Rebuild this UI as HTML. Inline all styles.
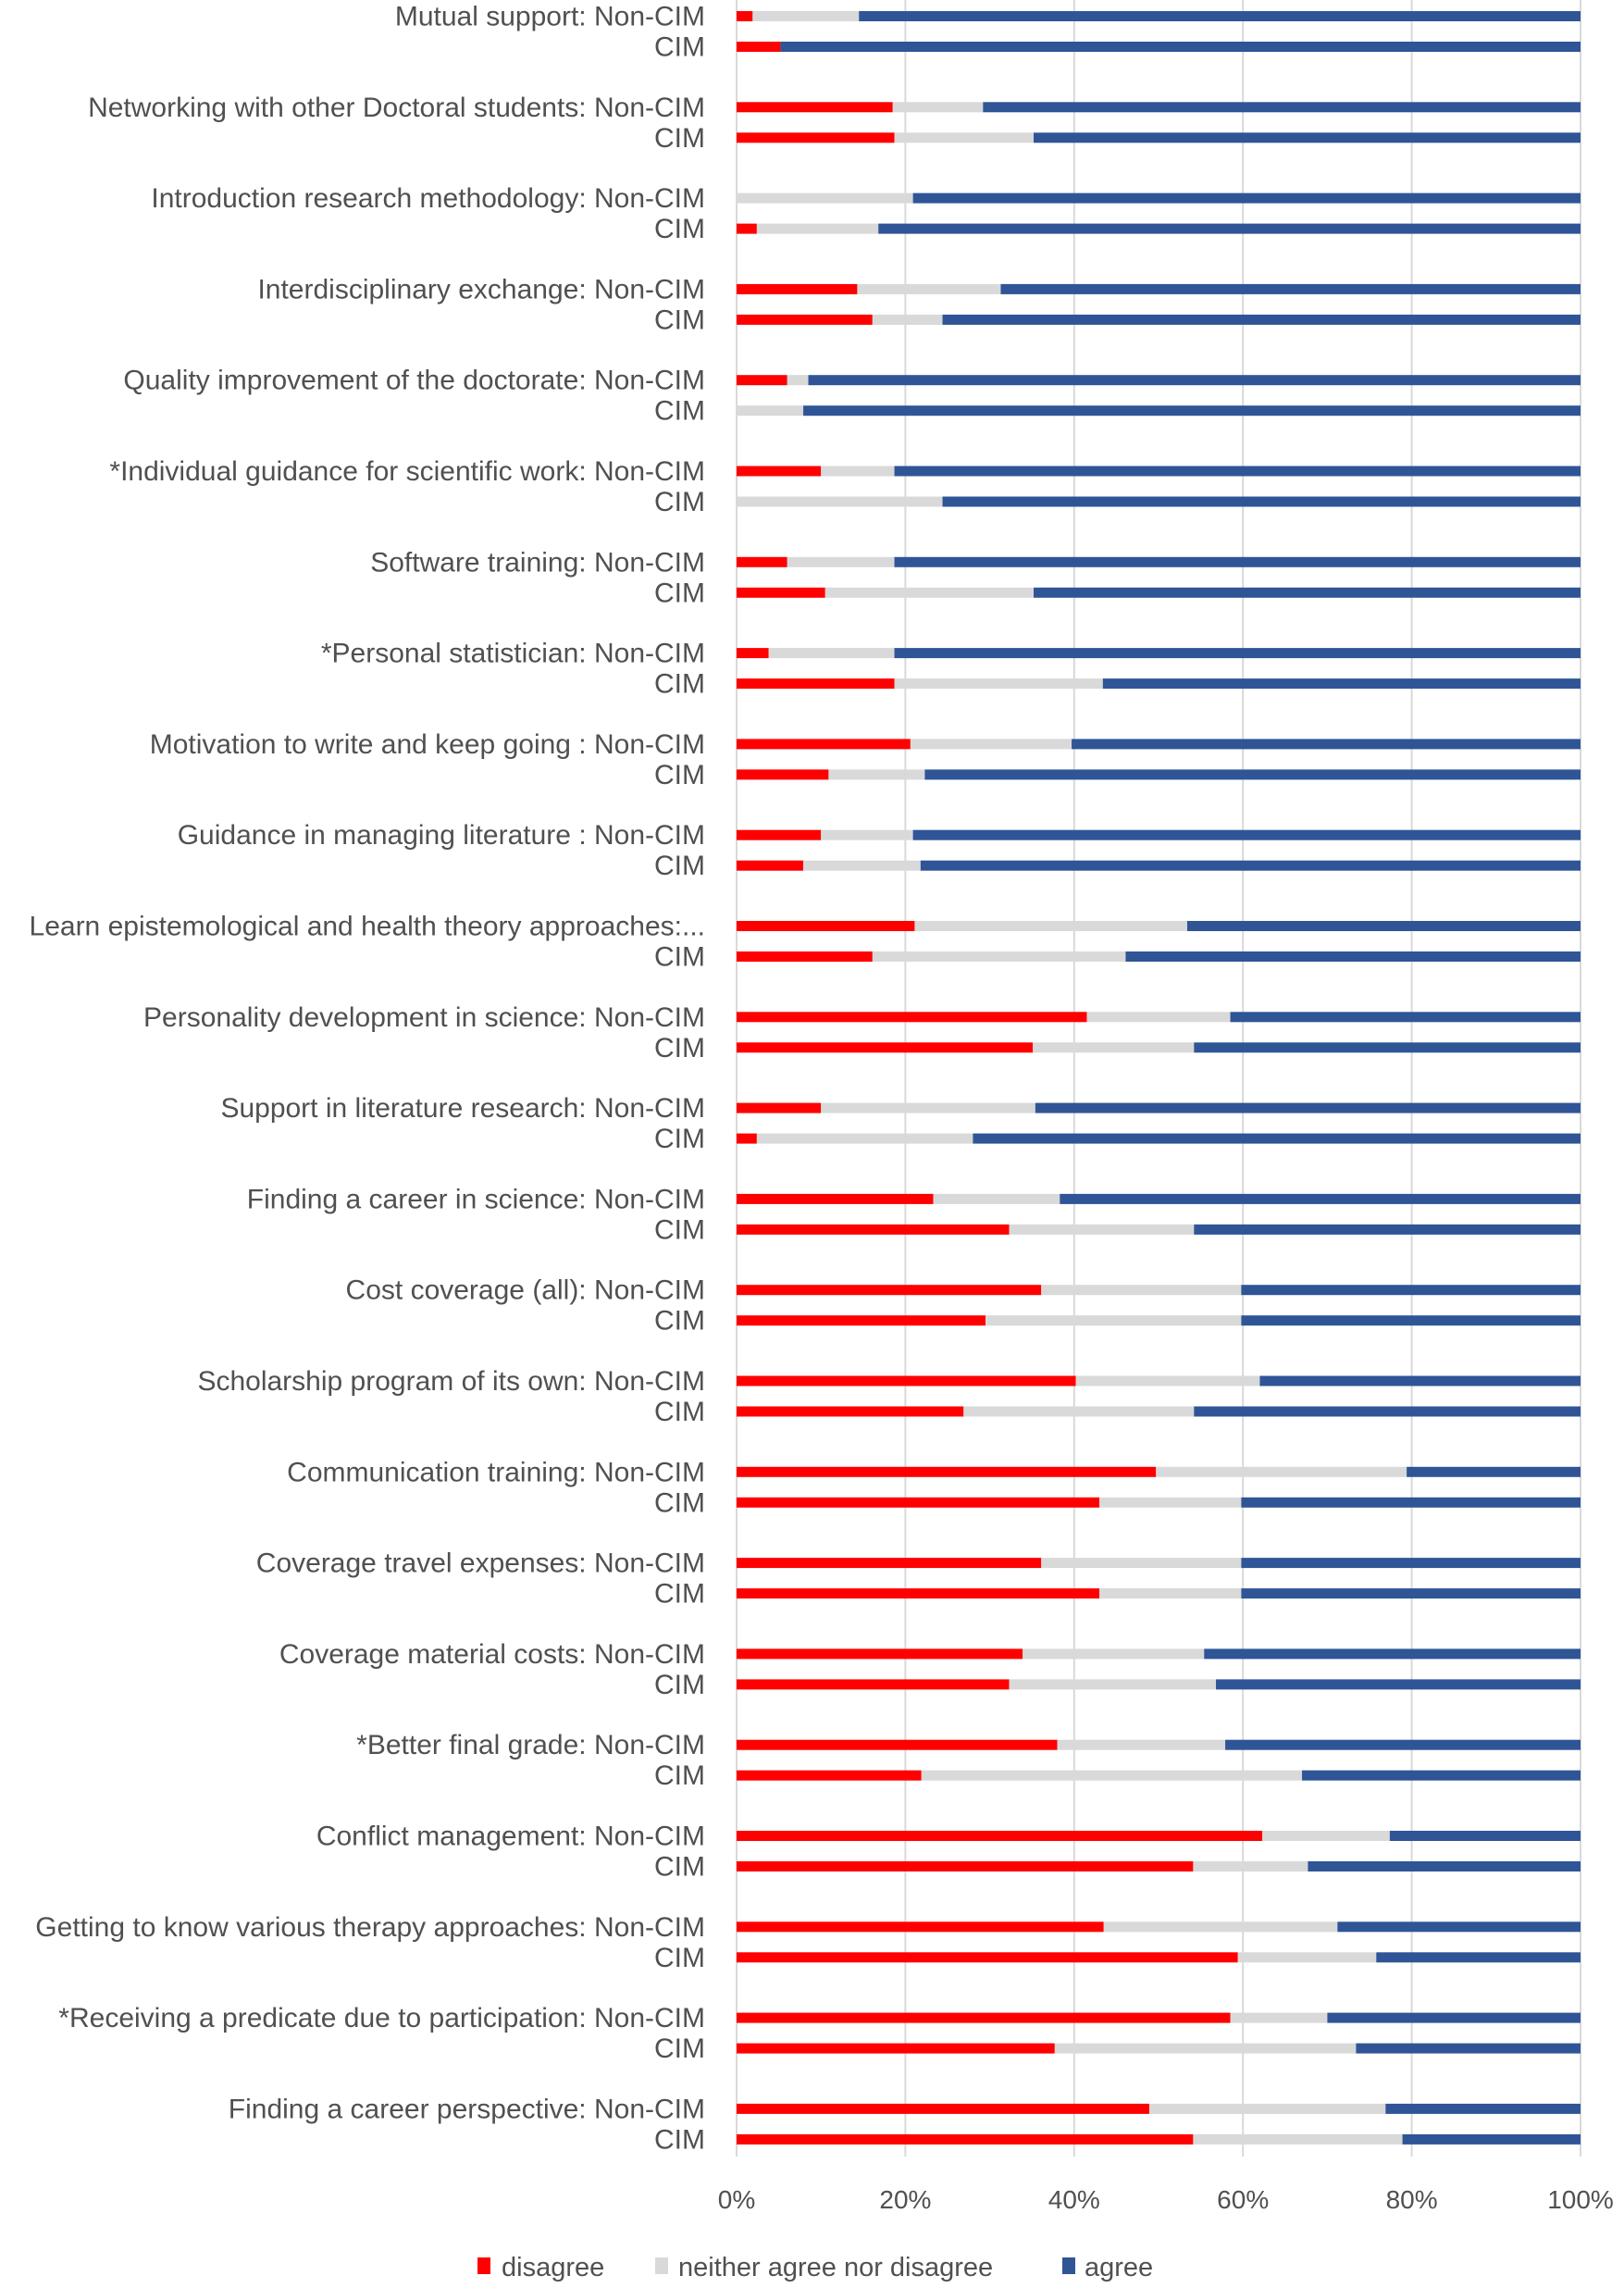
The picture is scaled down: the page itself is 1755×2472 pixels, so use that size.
<!DOCTYPE html>
<html><head><meta charset="utf-8"><style>
html,body{margin:0;padding:0;background:#fff}
svg{display:block}
text{font-family:"Liberation Sans",sans-serif;fill:#505050}
</style></head><body>
<svg id="chart" width="1755" height="2472" viewBox="0 0 1755 2472" xmlns="http://www.w3.org/2000/svg">
<g id="grid"></g>
<g id="bars"></g>
<g id="labels"></g>
<g id="ticks"></g>
<g id="legend">
  <rect x="516" y="2439" width="14" height="18" fill="#ff0000"/>
  <text x="542" y="2459" font-size="29">disagree</text>
  <rect x="708" y="2439" width="14" height="18" fill="#d9d9d9"/>
  <text x="733" y="2459" font-size="29">neither agree nor disagree</text>
  <rect x="1148" y="2439" width="14" height="18" fill="#2f5597"/>
  <text x="1172" y="2459" font-size="29">agree</text>
</g>
</svg>
<script>
const categories = ["Mutual support","Networking with other Doctoral students","Introduction research methodology","Interdisciplinary exchange","Quality improvement of the doctorate","*Individual guidance for scientific work","Software training","*Personal statistician","Motivation to write and keep going ","Guidance in managing literature ","Learn epistemological and health theory approaches","Personality development in science","Support in literature research","Finding a career in science","Cost coverage (all)","Scholarship program of its own","Communication training","Coverage travel expenses","Coverage material costs","*Better final grade","Conflict management","Getting to know various therapy approaches","*Receiving a predicate due to participation","Finding a career perspective"];
const nonCimDisagree = [1.9,18.5,0,14.3,6,10,6,3.8,20.6,10,21.1,41.5,10,23.3,36.1,40.2,49.7,36.1,33.9,38,62.3,43.5,58.5,48.9];
const nonCimNeither  = [12.6,10.7,20.9,17,2.5,8.7,12.7,14.9,19.1,10.9,32.3,17,25.4,15,23.7,21.8,29.7,23.7,21.5,19.9,15.1,27.7,11.5,28];
const cimDisagree    = [5.2,18.7,2.4,16.1,0,0,10.5,18.7,10.9,7.9,16.1,35.1,2.4,32.3,29.5,26.9,43,43,32.3,21.9,54.1,59.4,37.7,54.1];
const cimNeither     = [0,16.5,14.4,8.3,7.9,24.4,24.7,24.7,11.4,13.9,30,19.1,25.6,21.9,30.3,27.3,16.8,16.8,24.5,45.1,13.6,16.4,35.7,24.8];
const tickValues = [0,20,40,60,80,100];
const tickLabels = ["0%","20%","40%","60%","80%","100%"];

const NS="http://www.w3.org/2000/svg";
const X0=796, X1=1708, Y0=17.5, GAP=98.3, SUB=33, BH=11;
const xScale=v=>X0+(X1-X0)*v/100;
const yScale=(i,s)=>Y0+i*GAP+s*SUB;
function mk(tag,attrs,parent){const e=document.createElementNS(NS,tag);for(const k in attrs)e.setAttribute(k,attrs[k]);parent.appendChild(e);return e;}
const grid=document.getElementById('grid'),bars=document.getElementById('bars'),labels=document.getElementById('labels'),ticks=document.getElementById('ticks');
tickValues.forEach((t,i)=>{
  const l=mk('line',{x1:xScale(t),x2:xScale(t),y1:0,y2:2330,stroke:'#d9d9d9','stroke-width':2},grid);
  
  
  const tx=mk('text',{x:xScale(t),y:2386,'font-size':28,'text-anchor':'middle'},ticks);
  tx.textContent=tickLabels[i];
  
  
});
const colors=['#ff0000','#d9d9d9','#2f5597'];
const names=['disagree','neither','agree'];
categories.forEach((c,i)=>{
  [[nonCimDisagree[i],nonCimNeither[i]],[cimDisagree[i],cimNeither[i]]].forEach((vals,s)=>{
    const segs=[vals[0],vals[1],100-vals[0]-vals[1]];
    let acc=0;const y=yScale(i,s);
    segs.forEach((v,k)=>{
      if(v>0){
        const r=mk('rect',{x:xScale(acc),y:y-BH/2,width:xScale(acc+v)-xScale(acc),height:BH,fill:colors[k]},bars);
        
        
      }
      acc+=v;
    });
    const lab = s ? 'CIM' : (i===10 ? c+':...' : c+': Non-CIM');
    const t=mk('text',{x:762,y:y+10,'font-size':30,'text-anchor':'end'},labels);
    t.textContent=lab;
    
    
    if(s===0){const w=t.getComputedTextLength();const maxW=i===10?742:760;
      if(w>maxW){t.setAttribute('textLength',maxW);t.setAttribute('lengthAdjust','spacingAndGlyphs');}}
  });
});
</script>
</body></html>
